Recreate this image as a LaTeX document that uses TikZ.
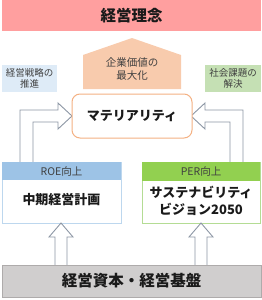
\documentclass[tikz,border=0pt]{standalone}
\usepackage{fontspec}
\setmainfont{Noto Sans CJK JP}
\definecolor{pinkbg}{HTML}{FF9F9F}
\definecolor{peach}{HTML}{F8CBAD}
\definecolor{lblue}{HTML}{DEEBF7}
\definecolor{lgreen}{HTML}{C5E0B4}
\definecolor{orangeb}{HTML}{F4B183}
\definecolor{hblue}{HTML}{9DC3E6}
\definecolor{bblue}{HTML}{BDD7EE}
\definecolor{hgreen}{HTML}{92D050}
\definecolor{bgreen}{HTML}{B4DC94}
\definecolor{grayfill}{HTML}{D0CECE}
\definecolor{grayline}{HTML}{AEABAB}
\definecolor{arrowc}{HTML}{8C96A4}
\definecolor{txt}{HTML}{1A1A1A}
\definecolor{txts}{HTML}{404040}
\tikzset{
  flat/.style={inner sep=0pt, outer sep=0pt, text=txt},
  blockarrow/.style={draw=arrowc, line width=0.9pt, fill=white, line join=miter},
}
\begin{document}
\begin{tikzpicture}[x=1pt,y=-1pt]
\useasboundingbox (0,0) rectangle (262,300);
% top banner
\node[flat, fill=pinkbg, minimum width=259pt, minimum height=31pt, anchor=north west,
      font=\fontsize{15.5}{18}\selectfont\bfseries] (rinen) at (2,0) {経営理念};
% house
\fill[peach] (83,89) -- (83,55) -- (132,38) -- (181,55) -- (181,89) -- cycle;
\node[flat, align=center, text=txts, font=\fontsize{10.5}{13}\selectfont] (kigyo) at (132,68.5) {企業価値の\\最大化};
% side boxes
\node[flat, fill=lblue, minimum width=55pt, minimum height=27pt, anchor=north west] (lbox) at (2,65) {};
\node[flat, align=center, text=txts, font=\fontsize{9.5}{10.5}\selectfont] (ltxt) at (lbox.center) {経営戦略の\\推進};
\node[flat, fill=lgreen, minimum width=56pt, minimum height=27pt, anchor=north west] (rbox) at (205,65) {};
\node[flat, align=center, text=txts, font=\fontsize{9.5}{10.5}\selectfont] (rtxt) at (rbox.center) {社会課題の\\解決};
% elbow arrows
\draw[blockarrow] (20,162) -- (20,110) -- (58,110) -- (58,103) -- (72,116) -- (58,129) -- (58,122) -- (33,122) -- (33,162);
\draw[blockarrow] (243,162) -- (243,110) -- (205,110) -- (205,103) -- (191,116) -- (205,129) -- (205,122) -- (230,122) -- (230,162);
% materiality
\node[flat, draw=orangeb, line width=1pt, fill=white, rounded corners=8pt, minimum width=120pt, minimum height=44pt,
      anchor=north west, font=\fontsize{13}{15}\selectfont\bfseries] (mat) at (72,94) {マテリアリティ};
% ROE box
\node[flat, draw=bblue, line width=0.8pt, fill=white, minimum width=119pt, minimum height=61pt, anchor=north west] (roe) at (2,162) {};
\fill[hblue] (roe.north west) rectangle ([yshift=-18pt]roe.north east);
\node[flat, text=txts, font=\fontsize{10.5}{12}\selectfont] (roeh) at ([yshift=-9pt]roe.north) {ROE向上};
\node[flat, font=\fontsize{13}{15}\selectfont\bfseries] (chuki) at (61.5,200) {中期経営計画};
% PER box
\node[flat, draw=bgreen, line width=0.8pt, fill=white, minimum width=118pt, minimum height=61pt, anchor=north west] (per) at (142,162) {};
\fill[hgreen] (per.north west) rectangle ([yshift=-19pt]per.north east);
\node[flat, text=txts, font=\fontsize{10.5}{12}\selectfont] (perh) at ([yshift=-9.5pt]per.north) {PER向上};
\node[flat, align=center, font=\fontsize{13}{16.5}\selectfont\bfseries] (vision) at (201,201) {サステナビリティ\\ビジョン2050};
% up arrows
\draw[blockarrow] (55,265) -- (55,237) -- (49,237) -- (61,223) -- (73,237) -- (67,237) -- (67,265);
\draw[blockarrow] (195,265) -- (195,237) -- (189,237) -- (201,223) -- (213,237) -- (207,237) -- (207,265);
% bottom banner
\node[flat, fill=grayfill, draw=grayline, line width=0.6pt, minimum width=259pt, minimum height=32pt, anchor=north west,
      font=\fontsize{15.5}{18}\selectfont\bfseries] (kiban) at (2,265) {経営資本・経営基盤};
\end{tikzpicture}
\end{document}
